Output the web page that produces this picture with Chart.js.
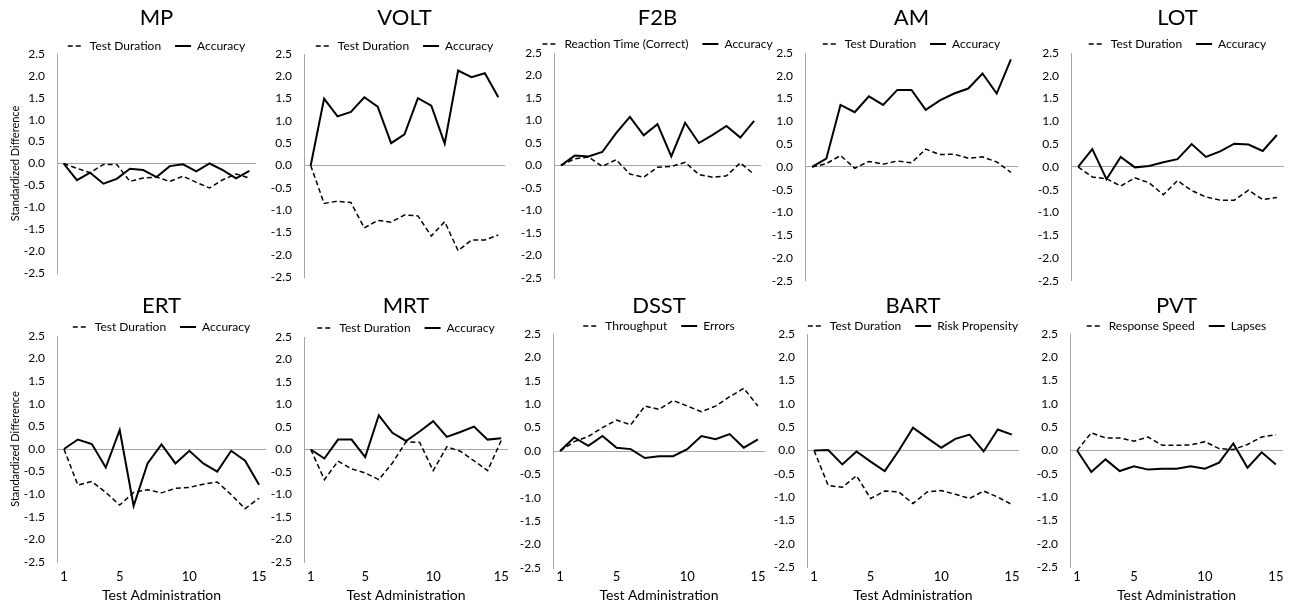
<!DOCTYPE html>
<html>
<head>
<meta charset="utf-8">
<title>Standardized Difference by Test Administration</title>
<script src="https://cdn.jsdelivr.net/npm/chart.js@4.4.1/dist/chart.umd.min.js"></script>
<style>
  html, body { margin: 0; padding: 0; background: #fff; }
  #sheet { position: relative; width: 1296px; height: 607px; overflow: hidden; }
  #sheet canvas { position: absolute; }
</style>
</head>
<body>
<div id="sheet"></div>
<script>
// test administrations (x categories) and the ones that get a label
var administrations = [1, 2, 3, 4, 5, 6, 7, 8, 9, 10, 11, 12, 13, 14, 15];
var xTickLabels = [1, 5, 10, 15];

// standardized differences
var mpDuration   = [0, -0.11, -0.21, -0.02, -0.02, -0.41, -0.33, -0.31, -0.41, -0.29, -0.43, -0.56, -0.37, -0.24, -0.33];
var mpAccuracy   = [0, -0.38, -0.21, -0.46, -0.35, -0.12, -0.15, -0.31, -0.06, -0.02, -0.18, 0.00, -0.15, -0.34, -0.17];

var voltDuration = [0, -0.85, -0.80, -0.83, -1.40, -1.23, -1.27, -1.11, -1.13, -1.58, -1.26, -1.91, -1.67, -1.67, -1.56];
var voltAccuracy = [0, 1.50, 1.10, 1.20, 1.53, 1.32, 0.50, 0.70, 1.51, 1.34, 0.49, 2.13, 1.98, 2.07, 1.53];

var f2bReaction  = [0, 0.15, 0.19, -0.02, 0.13, -0.19, -0.26, -0.04, -0.02, 0.07, -0.20, -0.26, -0.23, 0.06, -0.20];
var f2bAccuracy  = [0, 0.22, 0.20, 0.30, 0.72, 1.08, 0.67, 0.92, 0.20, 0.95, 0.50, 0.68, 0.88, 0.62, 0.99];

var amDuration   = [0, 0.07, 0.25, -0.03, 0.12, 0.06, 0.13, 0.09, 0.39, 0.27, 0.28, 0.19, 0.22, 0.11, -0.12];
var amAccuracy   = [0, 0.18, 1.36, 1.20, 1.55, 1.36, 1.69, 1.69, 1.25, 1.46, 1.61, 1.72, 2.05, 1.61, 2.36];

var lotDuration  = [0, -0.22, -0.26, -0.42, -0.24, -0.35, -0.61, -0.30, -0.52, -0.66, -0.73, -0.73, -0.51, -0.72, -0.67];
var lotAccuracy  = [0, 0.39, -0.27, 0.22, -0.01, 0.02, 0.10, 0.17, 0.50, 0.22, 0.34, 0.51, 0.49, 0.35, 0.70];

var ertDuration  = [0, -0.80, -0.72, -0.96, -1.24, -0.96, -0.90, -0.97, -0.87, -0.85, -0.78, -0.73, -1.01, -1.32, -1.09];
var ertAccuracy  = [0, 0.21, 0.11, -0.41, 0.42, -1.26, -0.32, 0.10, -0.32, -0.04, -0.32, -0.50, -0.04, -0.26, -0.79];

var mrtDuration  = [0, -0.67, -0.26, -0.43, -0.52, -0.67, -0.30, 0.17, 0.16, -0.47, 0.06, -0.04, -0.25, -0.47, 0.20];
var mrtAccuracy  = [0, -0.20, 0.22, 0.22, -0.17, 0.76, 0.37, 0.19, 0.40, 0.63, 0.28, 0.39, 0.51, 0.22, 0.25];

var dsstThroughput = [0, 0.20, 0.31, 0.50, 0.66, 0.56, 0.96, 0.89, 1.08, 0.96, 0.84, 0.96, 1.16, 1.34, 0.96];
var dsstErrors     = [0, 0.29, 0.11, 0.32, 0.07, 0.04, -0.15, -0.11, -0.11, 0.04, 0.32, 0.25, 0.36, 0.07, 0.25];

var bartDuration = [0, -0.75, -0.79, -0.54, -1.03, -0.87, -0.89, -1.14, -0.89, -0.86, -0.94, -1.03, -0.87, -1.00, -1.16];
var bartRisk     = [0, 0.01, -0.30, -0.02, -0.24, -0.44, 0.00, 0.49, 0.27, 0.06, 0.25, 0.34, -0.02, 0.45, 0.34];

var pvtSpeed     = [0, 0.38, 0.27, 0.27, 0.20, 0.29, 0.11, 0.11, 0.12, 0.19, 0.04, 0.02, 0.13, 0.29, 0.34];
var pvtLapses    = [0, -0.46, -0.19, -0.44, -0.34, -0.41, -0.39, -0.39, -0.34, -0.39, -0.26, 0.15, -0.37, -0.04, -0.30];

var panels = [
  { title: 'MP',   dashName: 'Test Duration',            dash: mpDuration,     lineName: 'Accuracy',         line: mpAccuracy },
  { title: 'VOLT', dashName: 'Test Duration',            dash: voltDuration,   lineName: 'Accuracy',         line: voltAccuracy },
  { title: 'F2B',  dashName: 'Reaction Time (Correct)',  dash: f2bReaction,    lineName: 'Accuracy',         line: f2bAccuracy },
  { title: 'AM',   dashName: 'Test Duration',            dash: amDuration,     lineName: 'Accuracy',         line: amAccuracy },
  { title: 'LOT',  dashName: 'Test Duration',            dash: lotDuration,    lineName: 'Accuracy',         line: lotAccuracy },
  { title: 'ERT',  dashName: 'Test Duration',            dash: ertDuration,    lineName: 'Accuracy',         line: ertAccuracy },
  { title: 'MRT',  dashName: 'Test Duration',            dash: mrtDuration,    lineName: 'Accuracy',         line: mrtAccuracy },
  { title: 'DSST', dashName: 'Throughput',               dash: dsstThroughput, lineName: 'Errors',           line: dsstErrors },
  { title: 'BART', dashName: 'Test Duration',            dash: bartDuration,   lineName: 'Risk Propensity',  line: bartRisk },
  { title: 'PVT',  dashName: 'Response Speed',           dash: pvtSpeed,       lineName: 'Lapses',           line: pvtLapses }
];

// plot area of each panel on the page (left axis, right edge, top, bottom) + legend row
var frames = [
  { axis: 57,   right: 256,  top: 54,  bottom: 273, legendY: 46 },
  { axis: 304,  right: 505,  top: 54,  bottom: 277, legendY: 46 },
  { axis: 554,  right: 761,  top: 53,  bottom: 278, legendY: 44 },
  { axis: 805,  right: 1018, top: 53,  bottom: 287, legendY: 44 },
  { axis: 1071, right: 1284, top: 53,  bottom: 287, legendY: 44 },
  { axis: 57,   right: 266,  top: 336, bottom: 562, legendY: 327 },
  { axis: 304,  right: 508,  top: 337, bottom: 562, legendY: 328 },
  { axis: 553,  right: 765,  top: 334, bottom: 568, legendY: 326 },
  { axis: 807,  right: 1019, top: 334, bottom: 567, legendY: 326 },
  { axis: 1070, right: 1283, top: 334, bottom: 567, legendY: 326 }
];
var rows = [
  { top: 0,   height: 300, titleY: 18 },
  { top: 292, height: 315, titleY: 306 }
];

Chart.defaults.font.family = "Lato, 'Open Sans', sans-serif";
Chart.defaults.color = '#000';

var AXIS_GREY = '#a6a6a6';
var LEGEND_PAD = 14;
var TITLE_LH = 15.4; // 22px * 0.7

// legend sample = the dataset's own line (dash + width)
function lineLegend(chart) {
  return chart.data.datasets.map(function (ds, k) {
    return {
      text: ds.label,
      datasetIndex: k,
      pointStyle: 'line',
      strokeStyle: ds.borderColor,
      fillStyle: ds.borderColor,
      lineWidth: ds.borderWidth,
      lineDash: ds.borderDash || [],
      hidden: false
    };
  });
}

var sheet = document.getElementById('sheet');

panels.forEach(function (p, i) {
  var f = frames[i];
  var bottomRow = i >= 5;
  var firstCol = i % 5 === 0;
  var row = bottomRow ? rows[1] : rows[0];

  // canvas is symmetric round the plot area (spare axis on the right)
  // so the title and legend centre over the plot
  var yw = firstCol ? f.axis : 55;
  var left = f.axis - yw;
  var width = f.right - f.axis + 2 * yw;
  var plotBottom = f.bottom - row.top;
  var xHeight = bottomRow ? (row.top + row.height - f.bottom) : 0;
  var padBottom = row.height - xHeight - plotBottom;

  var titleY = row.titleY - row.top;
  var legendTop = f.legendY - row.top - LEGEND_PAD - 6;
  var legendH = f.top - row.top - legendTop;

  var canvas = document.createElement('canvas');
  canvas.width = width;
  canvas.height = row.height;
  canvas.style.left = left + 'px';
  canvas.style.top = row.top + 'px';
  sheet.appendChild(canvas);

  new Chart(canvas, {
    type: 'line',
    data: {
      labels: administrations,
      datasets: [{
        label: p.dashName,
        data: p.dash,
        borderColor: '#000',
        borderWidth: 1.5,
        borderDash: [5, 3],
        pointRadius: 0,
        tension: 0
      }, {
        label: p.lineName,
        data: p.line,
        borderColor: '#000',
        borderWidth: 2,
        pointRadius: 0,
        tension: 0
      }]
    },
    options: {
      responsive: false,
      animation: false,
      devicePixelRatio: 1,
      events: [],
      layout: { padding: { left: 0, right: 0, top: 0, bottom: padBottom } },
      plugins: {
        title: {
          display: true,
          text: p.title,
          color: '#000',
          font: { size: 22, weight: 'normal', lineHeight: 0.7 },
          padding: { top: titleY - TITLE_LH / 2, bottom: legendTop - titleY - TITLE_LH / 2 }
        },
        legend: {
          maxHeight: legendH,
          labels: {
            usePointStyle: true,
            pointStyle: 'line',
            pointStyleWidth: 16,
            padding: LEGEND_PAD,
            color: '#000',
            font: { size: 12 },
            generateLabels: lineLegend
          }
        },
        tooltip: { enabled: false }
      },
      scales: {
        x: {
          offset: true,
          grid: { display: false, drawTicks: false },
          border: { display: false },
          ticks: {
            display: bottomRow,
            autoSkip: false,
            maxRotation: 0,
            padding: bottomRow ? 577 - f.bottom - 7.8 : 0,
            font: { size: 13 },
            callback: function (v, k) {
              var a = administrations[k];
              return xTickLabels.indexOf(a) >= 0 ? String(a) : '';
            }
          },
          title: {
            display: bottomRow,
            text: 'Test Administration',
            font: { size: 14 },
            padding: { top: 0, bottom: 3.6 }
          },
          afterFit: function (s) { s.height = xHeight; }
        },
        y: {
          min: -2.5,
          max: 2.5,
          ticks: {
            stepSize: 0.5,
            padding: 12,
            font: { size: 12 },
            callback: function (v) { return (Math.abs(v) < 1e-9 ? 0 : v).toFixed(1); }
          },
          grid: {
            drawTicks: false,
            lineWidth: 1,
            color: function (c) {
              return c.tick && Math.abs(c.tick.value) < 1e-9 ? AXIS_GREY : 'rgba(0,0,0,0)';
            }
          },
          border: { display: true, color: AXIS_GREY, width: 1 },
          title: {
            display: firstCol,
            text: 'Standardized Difference',
            font: { size: 11 },
            padding: { top: 8.4, bottom: 0 }
          },
          afterFit: function (s) { s.width = yw; }
        },
        spare: {
          type: 'linear',
          position: 'right',
          grid: { display: false, drawTicks: false },
          border: { display: false },
          ticks: { display: false },
          afterFit: function (s) { s.width = yw; }
        }
      }
    }
  });
});
</script>
</body>
</html>
